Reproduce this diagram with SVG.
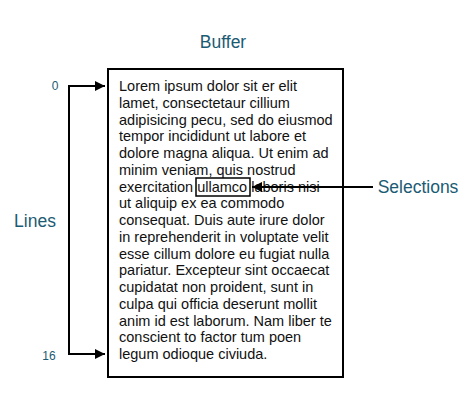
<svg xmlns="http://www.w3.org/2000/svg" width="470" height="417" viewBox="0 0 470 417">
<style>
.lbl{font-family:"Liberation Sans",Arial,sans-serif;fill:#1b5b73}
.big{font-size:17.5px}
.num{font-size:12px}
.body{font-family:"Liberation Sans",Arial,sans-serif;font-size:14.5px;fill:#111}
.ln{stroke:#000;stroke-width:2;fill:none}
</style>
<defs>
<marker id="ah" viewBox="0 0 10 10" refX="10" refY="5" markerWidth="10" markerHeight="10" markerUnits="userSpaceOnUse" orient="auto">
<path d="M0,0 L10,5 L0,10 z" fill="#000"/>
</marker>
</defs>
<rect width="470" height="417" fill="#fff"/>
<g id="buffer-title"><text class="lbl big" x="223" y="48" text-anchor="middle">Buffer</text></g>
<g id="buffer">
<rect class="ln" x="108" y="69" width="235" height="308"/>
<text class="body" x="119" y="91">
<tspan x="119" dy="0">Lorem ipsum dolor sit er elit</tspan>
<tspan x="119" dy="16.75">lamet, consectetaur cillium</tspan>
<tspan x="119" dy="16.75">adipisicing pecu, sed do eiusmod</tspan>
<tspan x="119" dy="16.75">tempor incididunt ut labore et</tspan>
<tspan x="119" dy="16.75">dolore magna aliqua. Ut enim ad</tspan>
<tspan x="119" dy="16.75">minim veniam, quis nostrud</tspan>
<tspan x="119" dy="16.75">exercitation ullamco laboris nisi</tspan>
<tspan x="119" dy="16.75">ut aliquip ex ea commodo</tspan>
<tspan x="119" dy="16.75">consequat. Duis aute irure dolor</tspan>
<tspan x="119" dy="16.75">in reprehenderit in voluptate velit</tspan>
<tspan x="119" dy="16.75">esse cillum dolore eu fugiat nulla</tspan>
<tspan x="119" dy="16.75">pariatur. Excepteur sint occaecat</tspan>
<tspan x="119" dy="16.75">cupidatat non proident, sunt in</tspan>
<tspan x="119" dy="16.75">culpa qui officia deserunt mollit</tspan>
<tspan x="119" dy="16.75">anim id est laborum. Nam liber te</tspan>
<tspan x="119" dy="16.75">conscient to factor tum poen</tspan>
<tspan x="119" dy="16.75">legum odioque civiuda.</tspan>
</text>
</g>
<g id="selection"><rect x="196" y="178" width="54" height="18" fill="none" stroke="#000" stroke-width="1.5"/></g>
<g id="label-0"><text class="lbl num" x="55" y="90" text-anchor="middle">0</text></g>
<g id="label-16"><text class="lbl num" x="49" y="359.5" text-anchor="middle">16</text></g>
<g id="label-lines"><text class="lbl big" x="35" y="227" text-anchor="middle">Lines</text></g>
<g id="label-selections"><text class="lbl big" x="418" y="193" text-anchor="middle">Selections</text></g>
<g id="connectors">
<path class="ln" d="M69,86 L69,354"/>
<path class="ln" d="M68,86 L105,86" marker-end="url(#ah)"/>
<path class="ln" d="M68,354 L105,354" marker-end="url(#ah)"/>
<path class="ln" d="M373,187 L252,187" marker-end="url(#ah)"/>
</g>
</svg>
